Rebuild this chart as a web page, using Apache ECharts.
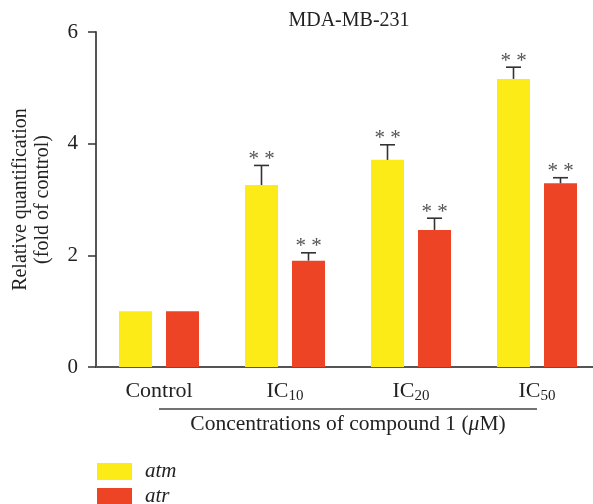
<!DOCTYPE html>
<html>
<head>
<meta charset="utf-8">
<script src="https://cdn.jsdelivr.net/npm/echarts@6/dist/echarts.min.js"></script>
<style>html,body{margin:0;padding:0;background:#fff}#c{width:593px;height:504px}</style>
</head>
<body>
<div id="c"></div>
<script>
var categories = ['Control', 'IC10', 'IC20', 'IC50'];
var categoryLabels = ['{a|Control}', '{a|IC}{b|10}', '{a|IC}{b|20}', '{a|IC}{b|50}'];
var atmValues = [1.0, 3.26, 3.71, 5.16];
var atmErrors = [0, 0.35, 0.27, 0.21];
var atrValues = [1.0, 1.905, 2.455, 3.29];
var atrErrors = [0, 0.14, 0.21, 0.10];
var atmSig = ['', '**', '**', '**'];
var atrSig = ['', '**', '**', '**'];
var yTicks = [0, 2, 4, 6];

var FONT = '"Liberation Serif", "DejaVu Serif", serif';
var YELLOW = '#FCEB17';
var RED = '#EE4426';
var AX = '#555';
var BAR_W = 33, BAR_GAP_PX = 14;
var OFFSET = (BAR_W + BAR_GAP_PX) / 2;

function errData(vals, errs, sig) {
  return vals.map(function (v, i) { return [i, v, errs[i], sig[i]]; });
}
function errRender(offset, sig) {
  return function (params, api) {
    var i = params.dataIndex;
    var v = api.value(1), e = api.value(2);
    var x = api.coord([api.value(0), 0])[0] + offset;
    var yb = api.coord([api.value(0), v])[1];
    var yt = api.coord([api.value(0), v + e])[1];
    var children = [];
    if (e > 0) {
      children.push({ type: 'line', shape: { x1: x, y1: yb, x2: x, y2: yt }, style: { stroke: '#333', lineWidth: 1.6 } });
      children.push({ type: 'line', shape: { x1: x - 7.5, y1: yt, x2: x + 7.5, y2: yt }, style: { stroke: '#333', lineWidth: 1.6 } });
    }
    if (sig[i]) {
      children.push({ type: 'text', style: { text: '* *', x: x, y: yt - 6, textAlign: 'center', textVerticalAlign: 'middle', fontFamily: FONT, fontSize: 21, fill: '#555' } });
    }
    return { type: 'group', children: children };
  };
}

var legendText = { fontFamily: FONT, fontSize: 21, fontStyle: 'italic', color: '#222', lineHeight: 17, padding: [0, 0, 0, 8] };
var chart = echarts.init(document.getElementById('c'));
var option = {
  animation: false,
  backgroundColor: '#fff',
  title: {
    text: 'MDA-MB-231', left: 344, top: 6, textAlign: 'center',
    textStyle: { fontFamily: FONT, fontSize: 20, fontWeight: 'normal', color: '#222' }
  },
  legend: [
    { left: 97, top: 461, padding: 0, itemWidth: 35, itemHeight: 17, icon: 'rect', data: ['atm'], textStyle: legendText },
    { left: 97, top: 486, padding: 0, itemWidth: 35, itemHeight: 17, icon: 'rect', data: ['atr'], textStyle: legendText }
  ],
  grid: { left: 96, width: 504, top: 32, bottom: 137, containLabel: false, outerBoundsMode: 'none' },
  xAxis: {
    type: 'category', data: categories,
    axisLine: { lineStyle: { color: AX, width: 2 } },
    axisTick: { alignWithLabel: true, length: 8, lineStyle: { color: '#333', width: 1.5 } },
    axisLabel: {
      margin: 13, color: '#222',
      formatter: function (v, i) { return categoryLabels[i]; },
      rich: {
        a: { fontFamily: FONT, fontSize: 22, color: '#222', lineHeight: 24, verticalAlign: 'top' },
        b: { fontFamily: FONT, fontSize: 15, color: '#222', lineHeight: 15, verticalAlign: 'bottom', padding: [13, 0, 0, 0] }
      }
    },
    name: '{n|Concentrations of compound 1 (}{i|μ}{n|M)}',
    nameLocation: 'middle', nameGap: 46,
    nameTextStyle: {
      rich: {
        n: { fontFamily: FONT, fontSize: 21.5, color: '#222' },
        i: { fontFamily: FONT, fontSize: 21.5, fontStyle: 'italic', color: '#222' }
      }
    }
  },
  yAxis: {
    type: 'value', min: 0, max: 6, interval: 2,
    axisLine: { show: true, lineStyle: { color: AX, width: 2 } },
    axisTick: { show: true, length: 8, lineStyle: { color: '#333', width: 1.5 } },
    splitLine: { show: false },
    axisLabel: {
      margin: 18, fontFamily: FONT, fontSize: 21, color: '#222',
      formatter: function (v) { return yTicks.indexOf(v) >= 0 ? String(v) : ''; }
    },
    name: 'Relative quantification\n(fold of control)',
    nameLocation: 'middle', nameRotate: 90, nameGap: 42,
    nameTextStyle: { fontFamily: FONT, fontSize: 20, color: '#222', lineHeight: 22 }
  },
  series: [
    { name: 'atm', type: 'bar', data: atmValues, barWidth: BAR_W, barGap: (BAR_GAP_PX / BAR_W * 100) + '%', itemStyle: { color: YELLOW } },
    { name: 'atr', type: 'bar', data: atrValues, barWidth: BAR_W, itemStyle: { color: RED } },
    { type: 'custom', data: errData(atmValues, atmErrors, atmSig), renderItem: errRender(-OFFSET, atmSig), z: 5 },
    { type: 'custom', data: errData(atrValues, atrErrors, atrSig), renderItem: errRender(OFFSET, atrSig), z: 5 }
  ]
};
chart.setOption(option);
var p0 = chart.convertToPixel({ gridIndex: 0 }, [0, 0]);
var p3 = chart.convertToPixel({ gridIndex: 0 }, [3, 0]);
chart.setOption({
  graphic: [{
    type: 'line', shape: { x1: p0[0], y1: p0[1] + 42, x2: p3[0], y2: p3[1] + 42 },
    style: { stroke: '#444', lineWidth: 1.5 }
  }]
});
</script>
</body>
</html>
